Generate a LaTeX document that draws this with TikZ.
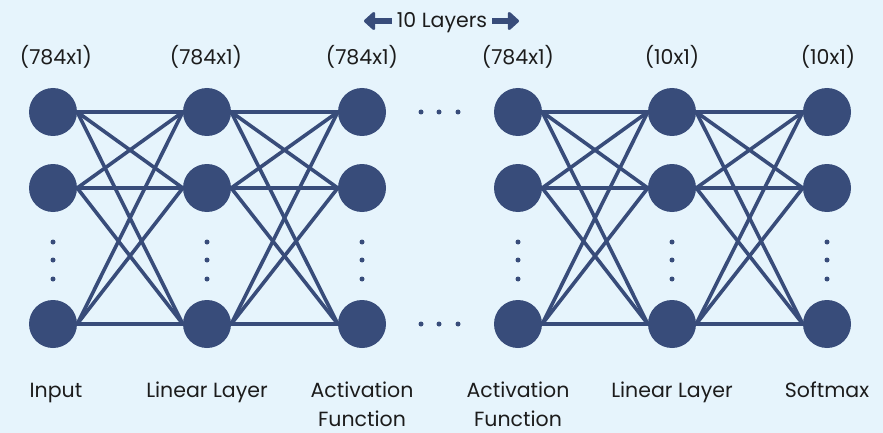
\documentclass[tikz,border=0pt]{standalone}
\usepackage{fontspec}
\setmainfont{Poppins}
\usetikzlibrary{arrows.meta}
\definecolor{bg}{HTML}{E6F4FC}
\definecolor{nodeblue}{HTML}{384C7A}
\definecolor{txt}{HTML}{1C1C1C}
\tikzset{
  neuron/.style={circle, fill=nodeblue, minimum size=48pt, inner sep=0pt},
  link/.style={draw=nodeblue, line width=3.6pt},
  dotmark/.style={circle, fill=nodeblue, minimum size=5pt, inner sep=0pt},
  lbl/.style={text=txt, font=\fontsize{20.5}{29}\selectfont, align=center, inner sep=0pt, anchor=base},
  bigarrow/.style={draw=nodeblue, line width=6.5pt, -{Triangle[length=12pt,width=21pt,round]}}
}
\begin{document}
\begin{tikzpicture}[x=1pt,y=-1pt]
\fill[bg] (0,0) rectangle (883,433);
\useasboundingbox (0,0) rectangle (883,433);
% columns
\foreach \c/\x in {1/53,2/207,3/362,4/518,5/672,6/827}{
  \node[neuron] (c\c r1) at (\x,112) {};
  \node[neuron] (c\c r2) at (\x,188) {};
  \node[neuron] (c\c r3) at (\x,324) {};
  \node[dotmark] (c\c d1) at (\x,242) {};
  \node[dotmark] (c\c d2) at (\x,260) {};
  \node[dotmark] (c\c d3) at (\x,279) {};
}
% connections
\foreach \a/\b in {1/2,2/3,4/5,5/6}{
  \foreach \i in {1,2,3}{
    \foreach \j in {1,2,3}{
      \draw[link] (c\a r\i.east) -- (c\b r\j.west);
    }
  }
}
% horizontal dots
\foreach \k/\x in {1/421,2/439,3/458}{
  \node[dotmark] (ht\k) at (\x,112) {};
  \node[dotmark] (hb\k) at (\x,324) {};
}
% sizes
\node[lbl] (s1) at (56,65) {(784x1)};
\node[lbl] (s2) at (206,65) {(784x1)};
\node[lbl] (s3) at (362,65) {(784x1)};
\node[lbl] (s4) at (518,65) {(784x1)};
\node[lbl] (s5) at (672,65) {(10x1)};
\node[lbl] (s6) at (828,65) {(10x1)};
% bottom labels
\node[lbl] (l1) at (56,397) {Input};
\node[lbl] (l2) at (207,397) {Linear Layer};
\node[lbl] (l3) at (362,426) {Activation\\Function};
\node[lbl] (l4) at (518,426) {Activation\\Function};
\node[lbl] (l5) at (672,397) {Linear Layer};
\node[lbl] (l6) at (827,397) {Softmax};
% top arrow label
\node[lbl] (layers) at (442,28) {10 Layers};
\coordinate (la) at (364,21);
\coordinate (ra) at (519,21);
\coordinate (lstart) at (392,21);
\coordinate (rstart) at (492,21);
\draw[bigarrow] (lstart) -- (la);
\draw[bigarrow] (rstart) -- (ra);
\end{tikzpicture}
\end{document}
